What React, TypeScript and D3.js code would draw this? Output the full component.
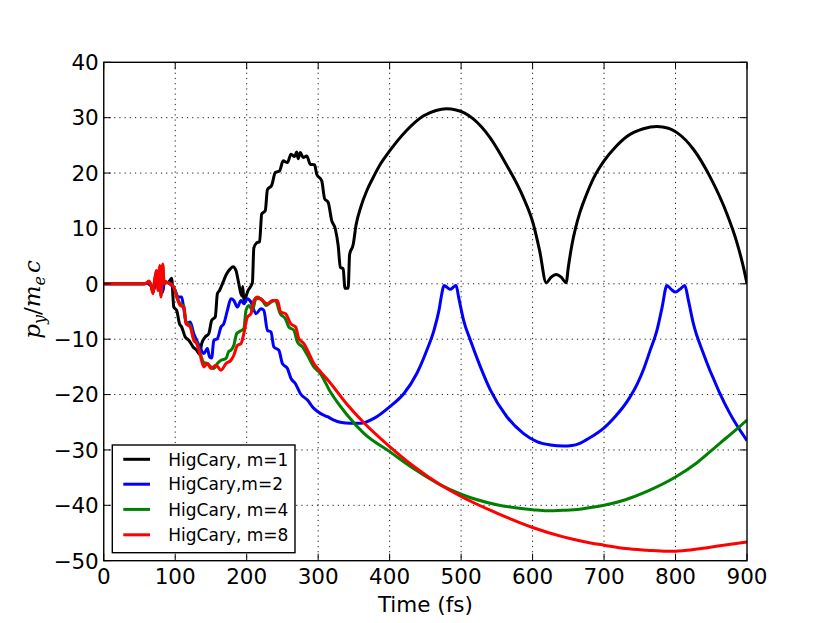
import React from "react";
import * as d3 from "d3";

const W = 830;
const H = 623;

const xTicks = [0, 100, 200, 300, 400, 500, 600, 700, 800, 900];
const yTicks = [-50, -40, -30, -20, -10, 0, 10, 20, 30, 40];

const seriesNames = ["HigCary, m=1", "HigCary,m=2", "HigCary, m=4", "HigCary, m=8"];
const seriesColors = ["#000000", "#0000ff", "#008000", "#ff0000"];

const blackData: [number, number][] = [
  [0, 0], [55, 0], [60, 0.1], [66, -0.3], [70, -1.2], [74, 1.8], [77, -0.8], [80, 2.6], [82, -1.6], [85, 0.4],
  [90, 0.2], [95, 1.0], [98, -4.2], [102, -4.8], [106, -7.2], [109, -7.8], [114, -9.6], [119, -10.2], [125, -11.4],
  [130, -12.0], [134, -12.7], [137, -10.8], [142, -9.6], [147, -9.0], [151, -6.6], [156, -6.0], [159, -1.8],
  [162, -1.2], [166, 0], [172, 1.8], [177, 2.7], [181, 3.1], [185, 2.4], [189, 0], [193, -2.2], [194.5, -0.5],
  [196, -3.0], [202, -1.2], [208, 0.2], [210, 6.5], [214, 7.4], [218, 7.6], [221, 12.6], [226, 13.2], [229, 17.0],
  [235, 17.8], [240, 20.1], [246, 20.4], [251, 22.2], [257, 21.9], [262, 23.4], [267, 23.0], [270, 23.8], [272, 22.6],
  [275, 23.7], [279, 22.8], [284, 23.1], [289, 21.6], [295, 21.5], [298, 19.8], [305, 18.6], [309, 15.4], [314, 14.7],
  [319, 11.4], [324, 9.9], [328, 6.9], [331, 3.0], [335, 2.7], [337.5, -0.8], [342, -0.8], [344, 5.3], [349, 7.1],
  [353, 10.6], [360, 14.0], [368, 16.8], [377, 19.2], [388, 21.8], [400, 24.0], [423, 27.6], [447, 30.3], [465, 31.3],
  [479, 31.6], [493, 31.4], [517, 29.8], [540, 26.5], [563, 21.6], [587, 15.6], [601, 10.8], [610, 5.9], [619, 0.2],
  [626, 1.2], [633, 1.7], [640, 1.2], [647, 0.2], [650, 3.0], [655, 7.0], [660, 10.0], [666, 12.8], [675, 16.0],
  [685, 19.0], [700, 22.2], [716, 24.7], [732, 26.6], [755, 28.0], [774, 28.4], [790, 28.1], [802, 27.3],
  [825, 24.3], [848, 19.4], [872, 12.6], [886, 7.4], [895, 3.0], [900, 0],
];

const blueData: [number, number][] = [
  [0, 0], [55, 0], [60, 0.1], [66, -0.3], [69, -1.5], [72, 0.8], [75, 2.0], [78, -0.8], [80, 2.2], [82, -1.4],
  [85, 0.3], [88, 0.3], [95, -0.3], [100, -1.2], [104, -2.4], [109, -2.4], [112, -4.5], [116, -7.2], [121, -6.9],
  [126, -9.0], [130, -10.2], [135, -11.6], [140, -12.6], [145, -11.7], [148, -13.2], [151, -13.4], [154, -10.2],
  [159, -9.9], [164, -7.8], [168, -7.2], [173, -4.8], [178, -2.7], [182, -3.0], [187, -4.2], [192, -3.0], [196, -3.6],
  [201, -2.7], [206, -3.3], [213, -5.4], [220, -4.5], [224, -4.8], [229, -8.4], [234, -8.7], [238, -11.4], [245, -12.0],
  [250, -14.4], [257, -15.3], [262, -17.1], [268, -18.0], [275, -19.8], [285, -21.0], [294, -22.5], [303, -23.4],
  [313, -24.0], [322, -24.6], [331, -25.0], [345, -25.2], [359, -25.2], [378, -24.3], [400, -22.2], [420, -19.8],
  [438, -16.2], [452, -12.0], [462, -8.4], [469, -4.8], [473, -1.8], [476, -0.3], [480, -0.6], [485, -1.0], [489, -0.6],
  [493, -0.3], [496.5, -2.4], [503.5, -6.6], [513, -10.2], [527, -15.0], [541, -19.2], [564, -24.0], [587, -27.0],
  [606, -28.5], [625, -29.1], [643, -29.3], [655, -29.2], [666, -28.8], [680, -27.8], [700, -26.0], [716, -23.9],
  [727, -22.2], [736, -20.5], [746, -18.2], [756, -15.2], [764, -12.2], [774, -8.4], [781, -4.4], [788, -0.3],
  [794, -1.0], [800, -1.5], [806, -1.0], [813, -0.3], [818, -3.0], [825, -7.2], [839, -12.6], [848, -15.6],
  [853, -17.1], [862, -19.8], [876, -23.4], [886, -25.6], [900, -28.3],
];

const greenData: [number, number][] = [
  [0, 0], [55, 0], [60, 0.1], [63, 0.4], [66, -0.2], [69, -1.6], [71, 0.4], [74, 2.2], [76, -1.0], [78.5, 3.0],
  [80, -2.2], [82.5, 3.3], [84.5, 0], [88, 0.3], [93, 0], [98, -0.6], [102, -2.2], [107, -3.6], [112, -4.0],
  [115, -6.9], [121, -7.5], [126, -10.0], [130, -10.6], [136, -13.0], [140, -14.2], [145, -14.4], [150, -15.0],
  [154, -15.3], [159, -14.4], [164, -13.8], [171, -13.5], [175, -12.2], [178, -12.0], [182, -11.1], [186, -9.0],
  [189, -8.7], [196, -8.1], [199, -4.8], [203, -3.9], [208, -4.8], [213, -2.7], [220, -2.7], [227, -3.9], [234, -3.3],
  [240, -3.0], [247, -5.4], [254, -6.3], [259, -7.8], [266, -8.4], [271, -10.5], [278, -11.4], [285, -12.9],
  [294, -15.0], [303, -16.2], [317, -19.5], [340, -23.6], [364, -27.0], [400, -30.3], [434, -33.4], [471, -36.3],
  [500, -38.0], [550, -39.9], [600, -40.8], [620, -41.0], [643, -40.9], [666, -40.7], [681, -40.4], [700, -40.0],
  [730, -39.0], [760, -37.5], [800, -34.9], [830, -32.3], [862, -28.8], [886, -26.2], [900, -24.6],
];

const redData: [number, number][] = [
  [0, 0], [55, 0], [60, 0.1], [63, 0.5], [66, -0.2], [69, -1.8], [71, 0.5], [74, 2.4], [76, -1.2], [78.5, 3.3],
  [80, -2.4], [82.5, 3.6], [84.5, 0], [88, 0.3], [93, 0], [98, -0.6], [102, -2.4], [107, -3.9], [112, -4.2],
  [115, -7.2], [121, -7.8], [126, -10.2], [130, -10.8], [135, -12.9], [140, -15.0], [145, -14.4], [150, -15.3],
  [157, -14.7], [164, -15.6], [171, -14.4], [178, -13.8], [182, -12.9], [187, -11.1], [192, -10.8], [196, -9.0],
  [201, -6.0], [206, -5.4], [210, -3.0], [215, -2.4], [222, -3.0], [229, -3.6], [236, -3.0], [243, -3.0],
  [247.5, -5.1], [254.5, -5.4], [261.5, -7.2], [268.5, -7.8], [273, -9.9], [280, -10.8], [285, -12.0], [294, -14.4],
  [303.5, -15.9], [317, -17.9], [340, -21.7], [364, -25.1], [400, -29.4], [434, -33.0], [471, -36.3], [500, -38.4],
  [550, -41.4], [600, -44.0], [643, -45.7], [666, -46.4], [681, -46.8], [700, -47.2], [730, -47.8], [760, -48.1],
  [788, -48.3], [810, -48.2], [830, -47.9], [862, -47.3], [900, -46.6],
];

const allSeries = [blackData, blueData, greenData, redData];

const L = 103.75;
const R = 747;
const T = 62.3;
const B = 560.7;

export default function App() {
  const x = d3.scaleLinear().domain([0, 900]).range([L, R]);
  const y = d3.scaleLinear().domain([-50, 40]).range([B, T]);
  const line = d3
    .line<[number, number]>()
    .x((d) => x(d[0]))
    .y((d) => y(d[1]))
    .curve(d3.curveMonotoneX);

  const font = "DejaVu Sans, sans-serif";
  const tickFs = 21.5;
  const tickLen = 7;

  const legX = 112.3;
  const legY = 445;
  const legW = 182.7;
  const legH = 107.7;
  const rowY = [459.3, 484.2, 509.4, 534.8];

  return (
    <svg
      width={W}
      height={H}
      style={{ position: "absolute", left: 0, top: 0, background: "#fff" }}
    >
      <rect x={0} y={0} width={W} height={H} fill="#ffffff" />
      <defs>
        <clipPath id="plotClip">
          <rect x={L} y={T} width={R - L} height={B - T} />
        </clipPath>
      </defs>
      {/* grid */}
      <g stroke="#000" strokeWidth={0.9} strokeDasharray="1.2,4">
        {xTicks.slice(1, -1).map((t) => (
          <line key={"gx" + t} x1={x(t)} x2={x(t)} y1={T} y2={B} />
        ))}
        {yTicks.slice(1, -1).map((t) => (
          <line key={"gy" + t} x1={L} x2={R} y1={y(t)} y2={y(t)} />
        ))}
      </g>
      {/* series */}
      <g clipPath="url(#plotClip)" fill="none" strokeWidth={3} strokeLinejoin="round" strokeLinecap="butt">
        {allSeries.map((s, i) => (
          <path key={i} d={line(s) || ""} stroke={seriesColors[i]} />
        ))}
      </g>
      {/* ticks */}
      <g stroke="#000" strokeWidth={1}>
        {xTicks.map((t) => (
          <g key={"tx" + t}>
            <line x1={x(t)} x2={x(t)} y1={B} y2={B - tickLen} />
            <line x1={x(t)} x2={x(t)} y1={T} y2={T + tickLen} />
          </g>
        ))}
        {yTicks.map((t) => (
          <g key={"ty" + t}>
            <line x1={L} x2={L + tickLen} y1={y(t)} y2={y(t)} />
            <line x1={R} x2={R - tickLen} y1={y(t)} y2={y(t)} />
          </g>
        ))}
      </g>
      {/* frame */}
      <rect x={L} y={T} width={R - L} height={B - T} fill="none" stroke="#000" strokeWidth={1.4} />
      {/* tick labels */}
      <g fontFamily={font} fontSize={tickFs} fill="#000">
        {xTicks.map((t) => (
          <text key={"lx" + t} x={x(t)} y={B + 23} textAnchor="middle">
            {String(t)}
          </text>
        ))}
        {yTicks.map((t) => (
          <text key={"ly" + t} x={L - 5} y={y(t) + 7.8} textAnchor="end">
            {t < 0 ? "\u2212" + Math.abs(t) : String(t)}
          </text>
        ))}
      </g>
      {/* axis labels */}
      <text x={(L + R) / 2} y={612} textAnchor="middle" fontFamily={font} fontSize={tickFs} fill="#000">
        Time (fs)
      </text>
      <g transform={`translate(40, ${(T + B) / 2 - 12}) rotate(-90)`}>
        <text
          textAnchor="middle"
          fontFamily="DejaVu Serif, Liberation Serif, serif"
          fontStyle="italic"
          fontSize={23}
          fill="#000"
        >
          <tspan>p</tspan>
          <tspan fontSize={16} dy={5}>y</tspan>
          <tspan dy={-5} fontStyle="normal">/</tspan>
          <tspan>m</tspan>
          <tspan fontSize={16} dy={5}>e</tspan>
          <tspan dy={-5} dx={3}>c</tspan>
        </text>
      </g>
      {/* legend */}
      <rect x={legX} y={legY} width={legW} height={legH} fill="#fff" stroke="#000" strokeWidth={1.4} />
      {seriesNames.map((n, i) => (
        <g key={"leg" + i}>
          <line x1={123.3} x2={150} y1={rowY[i]} y2={rowY[i]} stroke={seriesColors[i]} strokeWidth={3} />
          <text x={168.3} y={rowY[i] + 6.2} fontFamily={font} fontSize={17} fill="#000">
            {n}
          </text>
        </g>
      ))}
    </svg>
  );
}
